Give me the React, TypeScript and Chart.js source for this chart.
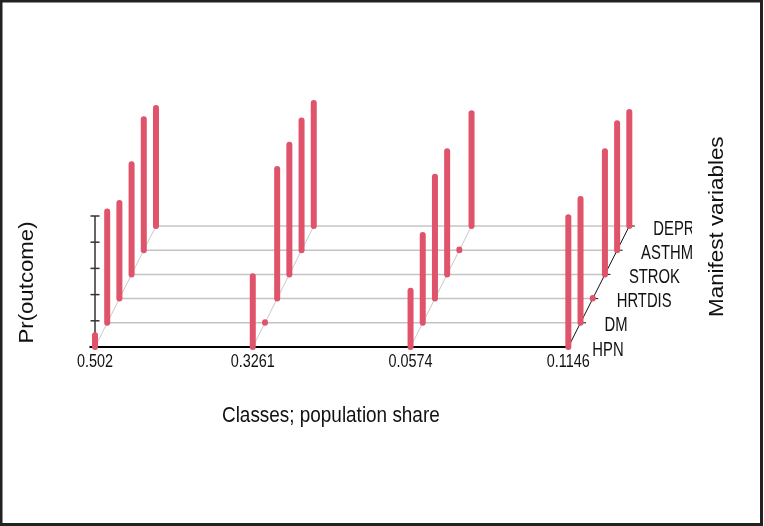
import React, { useEffect, useRef } from "react";
import { Chart, registerables } from "chart.js";

Chart.register(...registerables);

// ---- data ----
const CLASS_LABELS = ["0.502", "0.3261", "0.0574", "0.1146"];
const VARIABLES = ["HPN", "DM", "HRTDIS", "STROK", "ASTHM", "DEPR"];
const CLASS1_PROBS = [0.09, 0.85, 0.73, 0.84, 1.0, 0.9];
const CLASS2_PROBS = [0.54, 0.005, 0.99, 0.99, 0.99, 0.94];
const CLASS3_PROBS = [0.43, 0.67, 0.93, 0.94, 0.005, 0.86];
const CLASS4_PROBS = [0.99, 0.945, 0.005, 0.94, 0.97, 0.87];
const Z_TICKS = [0.2, 0.4, 0.6, 0.8, 1.0];
const X_TITLE = "Classes; population share";
const Y_TITLE = "Pr(outcome)";
const Z_TITLE = "Manifest variables";

const ALL_PROBS = [CLASS1_PROBS, CLASS2_PROBS, CLASS3_PROBS, CLASS4_PROBS];

// oblique projection of the depth (variable) axis, in data units
const DEPTH_DX = 0.0773;
const DEPTH_DY = 0.1847;
const BAR_COLOR = "#DF536B";
const FONT = "'Liberation Sans', Arial, sans-serif";

function drawText(
  ctx: CanvasRenderingContext2D,
  text: string,
  x: number,
  y: number,
  size: number,
  stretch: number,
  align: CanvasTextAlign,
  rotate = false
) {
  ctx.save();
  ctx.translate(x, y);
  if (rotate) ctx.rotate(-Math.PI / 2);
  ctx.scale(stretch, 1);
  ctx.font = `${size}px ${FONT}`;
  ctx.fillStyle = "#111";
  ctx.textAlign = align;
  ctx.textBaseline = "alphabetic";
  ctx.fillText(text, 0, 0);
  ctx.restore();
}

const framePlugin = {
  id: "frame3d",
  beforeDatasetsDraw(chart: any) {
    const ctx: CanvasRenderingContext2D = chart.ctx;
    const xs = chart.scales.x;
    const ys = chart.scales.y;
    const nC = CLASS_LABELS.length - 1;
    const nV = VARIABLES.length - 1;
    const px = (c: number, k: number) => xs.getPixelForValue(c + k * DEPTH_DX);
    const py = (z: number, k: number) => ys.getPixelForValue(z + k * DEPTH_DY);
    ctx.save();
    ctx.lineCap = "butt";
    // depth grid lines
    ctx.strokeStyle = "#C4C4C4";
    ctx.lineWidth = 1.5;
    for (let k = 1; k <= nV; k++) {
      ctx.beginPath();
      ctx.moveTo(px(0, k), py(0, k));
      ctx.lineTo(px(nC, k), py(0, k));
      ctx.stroke();
    }
    // class diagonals
    ctx.strokeStyle = "#C8C8C8";
    ctx.lineWidth = 1;
    for (let c = 0; c < nC; c++) {
      ctx.beginPath();
      ctx.moveTo(px(c, 0), py(0, 0));
      ctx.lineTo(px(c, nV), py(0, nV));
      ctx.stroke();
    }
    // right (depth) axis with ticks
    ctx.strokeStyle = "#111";
    ctx.lineWidth = 1;
    ctx.beginPath();
    ctx.moveTo(px(nC, 0), py(0, 0));
    ctx.lineTo(px(nC, nV), py(0, nV));
    ctx.stroke();
    for (let k = 1; k <= nV; k++) {
      ctx.beginPath();
      ctx.moveTo(px(nC, k) - 1.5, py(0, k));
      ctx.lineTo(px(nC, k) + 5.5, py(0, k));
      ctx.stroke();
    }
    // front baseline
    ctx.strokeStyle = "#000";
    ctx.lineWidth = 2;
    ctx.beginPath();
    ctx.moveTo(px(0, 0) - 5.5, py(0, 0));
    ctx.lineTo(px(nC, 0), py(0, 0));
    ctx.stroke();
    // vertical probability axis
    ctx.strokeStyle = "#333";
    ctx.lineWidth = 1.5;
    const ax = px(0, 0);
    ctx.beginPath();
    ctx.moveTo(ax, py(0, 0));
    ctx.lineTo(ax, py(Z_TICKS[Z_TICKS.length - 1], 0));
    ctx.stroke();
    for (const t of Z_TICKS) {
      ctx.beginPath();
      ctx.moveTo(ax - 4.5, py(t, 0));
      ctx.lineTo(ax + 4.5, py(t, 0));
      ctx.stroke();
    }
    ctx.restore();
  },
  afterDraw(chart: any) {
    const ctx: CanvasRenderingContext2D = chart.ctx;
    const xs = chart.scales.x;
    const ys = chart.scales.y;
    const nC = CLASS_LABELS.length - 1;
    const px = (c: number, k: number) => xs.getPixelForValue(c + k * DEPTH_DX);
    const py = (z: number, k: number) => ys.getPixelForValue(z + k * DEPTH_DY);
    // class labels
    CLASS_LABELS.forEach((lab, c) => {
      drawText(ctx, lab, px(c, 0), py(0, 0) + 20, 18.5, 0.78, "center");
    });
    // variable labels (clipped to the plot region)
    ctx.save();
    ctx.beginPath();
    ctx.rect(0, 0, 692, chart.height);
    ctx.clip();
    VARIABLES.forEach((v, k) => {
      drawText(ctx, v, px(nC, k) + 24, py(0, k) + 8.5, 19.5, 0.76, "left");
    });
    ctx.restore();
    // titles
    drawText(ctx, X_TITLE, 222, 421.5, 22, 0.86, "left");
    drawText(ctx, Y_TITLE, 32.7, 282.5, 20, 1.11, "center", true);
    drawText(ctx, Z_TITLE, 722.7, 226.7, 20, 1.12, "center", true);
    // outer frame
    ctx.save();
    ctx.strokeStyle = "#222";
    ctx.lineWidth = 3;
    ctx.strokeRect(1, 1, 760.5, 523.5);
    ctx.restore();
  },
};

export default function App() {
  const ref = useRef<HTMLCanvasElement | null>(null);
  useEffect(() => {
    if (!ref.current) return;
    const datasets: any[] = [];
    ALL_PROBS.forEach((probs, c) => {
      probs.forEach((p, k) => {
        datasets.push({
          label: `${CLASS_LABELS[c]} ${VARIABLES[k]}`,
          data: [
            { x: c + k * DEPTH_DX, y: k * DEPTH_DY },
            { x: c + k * DEPTH_DX, y: k * DEPTH_DY + p },
          ],
          showLine: true,
          borderColor: BAR_COLOR,
          backgroundColor: BAR_COLOR,
          borderWidth: 6,
          borderCapStyle: "round",
          pointRadius: 0,
          pointHoverRadius: 0,
          clip: false,
        });
      });
    });
    const chart = new Chart(ref.current, {
      type: "scatter",
      data: { datasets },
      plugins: [framePlugin],
      options: {
        animation: false,
        responsive: false,
        events: [],
        layout: { padding: { left: 95, right: 101, top: 85, bottom: 179 } },
        plugins: { legend: { display: false }, tooltip: { enabled: false } },
        scales: {
          x: { type: "linear", min: 0, max: 3.6, display: false },
          y: { type: "linear", min: 0, max: 2, display: false },
        },
      },
    });
    return () => chart.destroy();
  }, []);
  return (
    <div style={{ position: "absolute", left: 0, top: 0, width: 764, height: 526, background: "#fff" }}>
      <canvas ref={ref} width={764} height={526} style={{ display: "block" }} />
    </div>
  );
}
